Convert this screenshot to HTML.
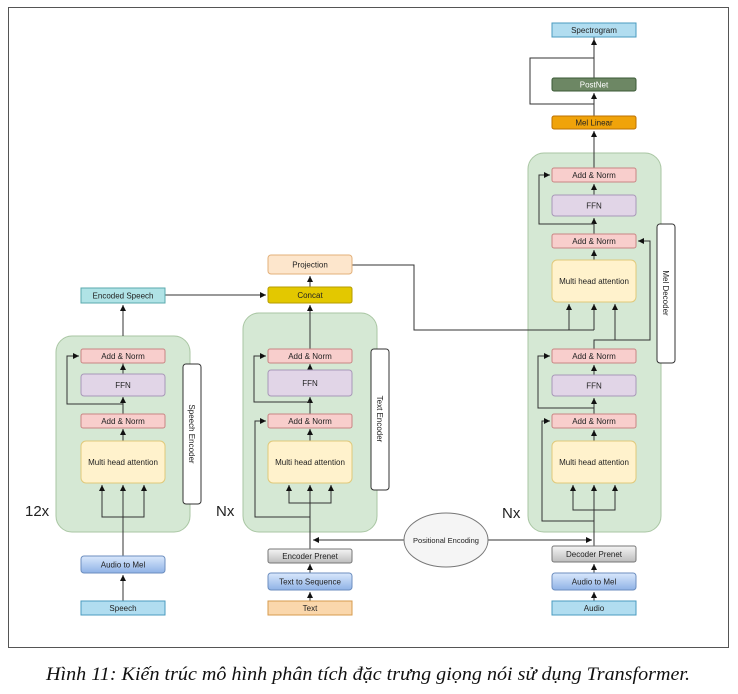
<!DOCTYPE html>
<html><head><meta charset="utf-8"><style>
html,body{margin:0;padding:0;background:#fff;width:738px;height:694px;overflow:hidden}
svg text{font-family:"Liberation Sans",sans-serif;font-size:8px;fill:#222}
</style></head><body>
<svg width="738" height="694" viewBox="0 0 738 694" xmlns="http://www.w3.org/2000/svg">
<defs>
<marker id="a" markerWidth="8" markerHeight="8" refX="6" refY="3" orient="auto" markerUnits="userSpaceOnUse"><path d="M0,0 L6,3 L0,6 Z" fill="#111"/></marker>
<linearGradient id="bl" x1="0" y1="0" x2="0" y2="1"><stop offset="0" stop-color="#dae8fc"/><stop offset="1" stop-color="#8fb2e6"/></linearGradient>
<linearGradient id="gr" x1="0" y1="0" x2="0" y2="1"><stop offset="0" stop-color="#f5f5f5"/><stop offset="1" stop-color="#bdbdbd"/></linearGradient>
</defs>
<rect x="8.5" y="7.5" width="720" height="640" fill="#fff" stroke="#555"/>

<!-- green containers -->
<rect x="56" y="336" width="134" height="196" rx="16" fill="#d5e8d4" stroke="#a9c6a3"/>
<rect x="243" y="313" width="134" height="219" rx="16" fill="#d5e8d4" stroke="#a9c6a3"/>
<rect x="528" y="153" width="133" height="379" rx="16" fill="#d5e8d4" stroke="#a9c6a3"/>

<g stroke="#333" stroke-width="1" fill="none">
<!-- speech encoder -->
<line x1="123" y1="336" x2="123" y2="305" marker-end="url(#a)"/>
<line x1="123" y1="349" x2="123" y2="365" />
<line x1="123" y1="374" x2="123" y2="364" marker-end="url(#a)"/>
<line x1="123" y1="414" x2="123" y2="397" marker-end="url(#a)"/>
<polyline points="123,404 67,404 67,356 79,356" marker-end="url(#a)"/>
<line x1="123" y1="441" x2="123" y2="429" marker-end="url(#a)"/>
<line x1="123" y1="556" x2="123" y2="485" marker-end="url(#a)"/>
<polyline points="102,485 102,517 144,517 144,485"/>
<line x1="102" y1="490" x2="102" y2="485" marker-end="url(#a)"/>
<line x1="144" y1="490" x2="144" y2="485" marker-end="url(#a)"/>
<line x1="123" y1="601" x2="123" y2="575" marker-end="url(#a)"/>
<line x1="165" y1="295" x2="266" y2="295" marker-end="url(#a)"/>

<!-- text encoder -->
<line x1="310" y1="287" x2="310" y2="276" marker-end="url(#a)"/>
<line x1="310" y1="349" x2="310" y2="305" marker-end="url(#a)"/>
<line x1="310" y1="370" x2="310" y2="364" marker-end="url(#a)"/>
<line x1="310" y1="414" x2="310" y2="397" marker-end="url(#a)"/>
<polyline points="310,402 254,402 254,356 266,356" marker-end="url(#a)"/>
<line x1="310" y1="441" x2="310" y2="429" marker-end="url(#a)"/>
<polyline points="310,549 310,517 255,517 255,421 266,421" marker-end="url(#a)"/>
<line x1="310" y1="520" x2="310" y2="485" marker-end="url(#a)"/>
<polyline points="289,485 289,503 331,503 331,485"/>
<line x1="289" y1="490" x2="289" y2="485" marker-end="url(#a)"/>
<line x1="331" y1="490" x2="331" y2="485" marker-end="url(#a)"/>
<line x1="310" y1="573" x2="310" y2="564" marker-end="url(#a)"/>
<line x1="310" y1="601" x2="310" y2="592" marker-end="url(#a)"/>
<line x1="404" y1="540" x2="313" y2="540" marker-end="url(#a)"/>
<line x1="488" y1="540" x2="592" y2="540" marker-end="url(#a)"/>

<!-- projection to decoder -->
<polyline points="352,265 414,265 414,330 594,330"/>
<line x1="569" y1="330" x2="569" y2="304" marker-end="url(#a)"/>
<line x1="594" y1="330" x2="594" y2="304" marker-end="url(#a)"/>

<!-- decoder -->
<line x1="594" y1="37" x2="594" y2="78"/>
<line x1="594" y1="45" x2="594" y2="39" marker-end="url(#a)"/>
<polyline points="594,104 530,104 530,58 594,58"/>
<line x1="594" y1="116" x2="594" y2="93" marker-end="url(#a)"/>
<line x1="594" y1="168" x2="594" y2="131" marker-end="url(#a)"/>
<line x1="594" y1="195" x2="594" y2="184" marker-end="url(#a)"/>
<line x1="594" y1="234" x2="594" y2="218" marker-end="url(#a)"/>
<polyline points="594,224 539,224 539,175 550,175" marker-end="url(#a)"/>
<line x1="594" y1="260" x2="594" y2="250" marker-end="url(#a)"/>
<polyline points="594,349 594,340 650,340 650,241 638,241" marker-end="url(#a)"/>
<line x1="615" y1="340" x2="615" y2="304" marker-end="url(#a)"/>
<line x1="594" y1="375" x2="594" y2="365" marker-end="url(#a)"/>
<line x1="594" y1="414" x2="594" y2="398" marker-end="url(#a)"/>
<polyline points="594,408 538,408 538,356 550,356" marker-end="url(#a)"/>
<line x1="594" y1="441" x2="594" y2="430" marker-end="url(#a)"/>
<polyline points="594,546 594,521 542,521 542,421 550,421" marker-end="url(#a)"/>
<line x1="594" y1="525" x2="594" y2="485" marker-end="url(#a)"/>
<polyline points="573,485 573,510 615,510 615,485"/>
<line x1="573" y1="490" x2="573" y2="485" marker-end="url(#a)"/>
<line x1="615" y1="490" x2="615" y2="485" marker-end="url(#a)"/>
<line x1="594" y1="573" x2="594" y2="564" marker-end="url(#a)"/>
<line x1="594" y1="601" x2="594" y2="592" marker-end="url(#a)"/>
</g>

<!-- boxes -->
<g stroke-width="1">
<rect x="81" y="288" width="84" height="15" fill="#b0e3e6" stroke="#5aa9ad"/>
<rect x="81" y="349" width="84" height="14" rx="2" fill="#f8cecc" stroke="#c98583"/>
<rect x="81" y="374" width="84" height="22" rx="3" fill="#e1d5e7" stroke="#a898b8"/>
<rect x="81" y="414" width="84" height="14" rx="2" fill="#f8cecc" stroke="#c98583"/>
<rect x="81" y="441" width="84" height="42" rx="5" fill="#fff2cc" stroke="#e0c97a"/>
<rect x="81" y="556" width="84" height="17" rx="3" fill="url(#bl)" stroke="#6c8ebf"/>
<rect x="81" y="601" width="84" height="14" fill="#b1ddf0" stroke="#4a9bbf"/>
<rect x="183" y="364" width="18" height="140" rx="3" fill="#fff" stroke="#333"/>

<rect x="268" y="255" width="84" height="19" rx="3" fill="#fde6cc" stroke="#e3b07a"/>
<rect x="268" y="287" width="84" height="16" rx="2" fill="#e3c800" stroke="#b59b00"/>
<rect x="268" y="349" width="84" height="14" rx="2" fill="#f8cecc" stroke="#c98583"/>
<rect x="268" y="370" width="84" height="26" rx="3" fill="#e1d5e7" stroke="#a898b8"/>
<rect x="268" y="414" width="84" height="14" rx="2" fill="#f8cecc" stroke="#c98583"/>
<rect x="268" y="441" width="84" height="42" rx="5" fill="#fff2cc" stroke="#e0c97a"/>
<rect x="268" y="549" width="84" height="14" rx="2" fill="url(#gr)" stroke="#777"/>
<rect x="268" y="573" width="84" height="17" rx="3" fill="url(#bl)" stroke="#6c8ebf"/>
<rect x="268" y="601" width="84" height="14" fill="#fad7ac" stroke="#d79b4e"/>
<rect x="371" y="349" width="18" height="141" rx="3" fill="#fff" stroke="#333"/>

<rect x="552" y="23" width="84" height="14" fill="#b1ddf0" stroke="#4a9bbf"/>
<rect x="552" y="78" width="84" height="13" rx="2" fill="#6d8764" stroke="#3a5a36"/>
<rect x="552" y="116" width="84" height="13" rx="2" fill="#f0a30a" stroke="#bd7000"/>
<rect x="552" y="168" width="84" height="14" rx="2" fill="#f8cecc" stroke="#c98583"/>
<rect x="552" y="195" width="84" height="21" rx="3" fill="#e1d5e7" stroke="#a898b8"/>
<rect x="552" y="234" width="84" height="14" rx="2" fill="#f8cecc" stroke="#c98583"/>
<rect x="552" y="260" width="84" height="42" rx="5" fill="#fff2cc" stroke="#e0c97a"/>
<rect x="552" y="349" width="84" height="14" rx="2" fill="#f8cecc" stroke="#c98583"/>
<rect x="552" y="375" width="84" height="21" rx="3" fill="#e1d5e7" stroke="#a898b8"/>
<rect x="552" y="414" width="84" height="14" rx="2" fill="#f8cecc" stroke="#c98583"/>
<rect x="552" y="441" width="84" height="42" rx="5" fill="#fff2cc" stroke="#e0c97a"/>
<rect x="552" y="546" width="84" height="16" rx="2" fill="url(#gr)" stroke="#777"/>
<rect x="552" y="573" width="84" height="17" rx="3" fill="url(#bl)" stroke="#6c8ebf"/>
<rect x="552" y="601" width="84" height="14" fill="#b1ddf0" stroke="#4a9bbf"/>
<rect x="657" y="224" width="18" height="139" rx="3" fill="#fff" stroke="#333"/>

<ellipse cx="446" cy="540" rx="42" ry="27" fill="#f5f5f5" stroke="#777"/>
</g>

<!-- labels -->
<g text-anchor="middle">
<text x="123" y="298.5">Encoded Speech</text>
<text x="123" y="359">Add &amp; Norm</text>
<text x="123" y="388">FFN</text>
<text x="123" y="424">Add &amp; Norm</text>
<text x="123" y="465">Multi head attention</text>
<text x="123" y="567.5">Audio to Mel</text>
<text x="123" y="611">Speech</text>

<text x="310" y="267.5">Projection</text>
<text x="310" y="298">Concat</text>
<text x="310" y="359">Add &amp; Norm</text>
<text x="310" y="386">FFN</text>
<text x="310" y="424">Add &amp; Norm</text>
<text x="310" y="465">Multi head attention</text>
<text x="310" y="559">Encoder Prenet</text>
<text x="310" y="584.5">Text to Sequence</text>
<text x="310" y="611">Text</text>

<text x="594" y="33">Spectrogram</text>
<text x="594" y="87.5" style="fill:#fff">PostNet</text>
<text x="594" y="125.5">Mel Linear</text>
<text x="594" y="178">Add &amp; Norm</text>
<text x="594" y="208.5">FFN</text>
<text x="594" y="244">Add &amp; Norm</text>
<text x="594" y="284">Multi head attention</text>
<text x="594" y="359">Add &amp; Norm</text>
<text x="594" y="388.5">FFN</text>
<text x="594" y="424">Add &amp; Norm</text>
<text x="594" y="465">Multi head attention</text>
<text x="594" y="557">Decoder Prenet</text>
<text x="594" y="584.5">Audio to Mel</text>
<text x="594" y="611">Audio</text>

<text x="446" y="543" style="font-size:7.5px">Positional Encoding</text>

<text transform="translate(189,434) rotate(90)">Speech Encoder</text>
<text transform="translate(377,419) rotate(90)">Text Encoder</text>
<text transform="translate(663,293) rotate(90)">Mel Decoder</text>
</g>
<text x="25" y="516" style="font-size:15px">12x</text>
<text x="216" y="516" style="font-size:15px">Nx</text>
<text x="502" y="518" style="font-size:15px">Nx</text>

<text x="46" y="680" textLength="644" lengthAdjust="spacingAndGlyphs" style="font-family:'Liberation Serif',serif;font-style:italic;font-size:19px;fill:#111">Hình 11: Kiến trúc mô hình phân tích đặc trưng giọng nói sử dụng Transformer.</text>
</svg>
</body></html>
